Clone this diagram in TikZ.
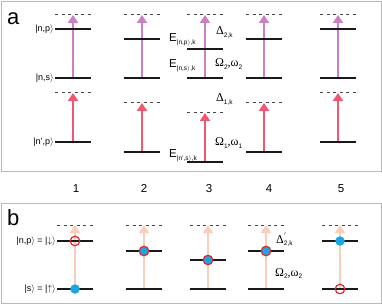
\documentclass[tikz,border=0pt]{standalone}
\usepackage{fontspec}
\setmainfont{Liberation Sans}
\newfontfamily\grk{Liberation Serif}
\usetikzlibrary{arrows.meta}
\definecolor{purp}{RGB}{204,128,196}
\definecolor{redar}{RGB}{241,88,112}
\definecolor{peach}{RGB}{249,206,188}
\definecolor{bluec}{RGB}{28,166,224}
\definecolor{ringc}{RGB}{228,40,50}
\definecolor{framec}{RGB}{185,185,185}
\definecolor{lvlc}{RGB}{25,25,25}
\definecolor{dashc}{RGB}{70,70,70}
\newcommand{\kt}[1]{|#1\ensuremath{\rangle}}
\newcommand{\sbx}[1]{\raisebox{-2.8pt}{\fontsize{6.5}{7}\selectfont #1}}
\newcommand{\sbs}[1]{\sbx{\fontspec{Liberation Sans}#1}}
\begin{document}
\begin{tikzpicture}[x=1pt,y=-1pt,
  lvl/.style={line width=1.7pt, draw=lvlc},
  vdash/.style={line width=1pt, draw=dashc, dash pattern=on 3pt off 3.5pt},
  uparr/.style={line width=2pt, -{Triangle[length=8pt,width=10pt]}},
  frm/.style={draw=framec, line width=0.8pt},
  lab/.style={inner sep=0pt, font=\fontsize{9}{10}\selectfont},
  big/.style={inner sep=0pt, font=\fontsize{11.5}{12}\selectfont},
  panel/.style={inner sep=0pt, font=\fontsize{22}{24}\selectfont},
  gr/.style={inner sep=0pt, font=\grk\fontsize{12}{13}\selectfont},
  dot/.style={circle, inner sep=0pt, minimum size=9.5pt, line width=1.2pt}
  ]
\useasboundingbox (0,0) rectangle (382,304);
% frames
\draw[frm] (1,1) rectangle (381,171);
\draw[frm] (1,203) rectangle (381,303);
\node[panel, anchor=base west] (pa) at (7,25) {a};
\node[panel, anchor=base west] (pb) at (7,225) {b};
% panel a
\foreach \i/\x/\u/\d/\b in {1/73/29/93/142, 2/142/39/103/152, 3/205/49/113/162, 4/264/39/103/152, 5/338/29/93/142}{
  \coordinate (aTop\i) at (\x,15);
  \coordinate (aUp\i) at (\x,\u);
  \coordinate (aMid\i) at (\x,78);
  \coordinate (aDsh\i) at (\x,\d);
  \coordinate (aBot\i) at (\x,\b);
  \draw[uparr, purp] (aMid\i) -- (aTop\i);
  \draw[uparr, redar] (aBot\i) -- (aDsh\i);
  \draw[vdash] ([xshift=-18pt]aTop\i) -- ([xshift=18pt]aTop\i);
  \draw[vdash] ([xshift=-18pt]aDsh\i) -- ([xshift=18pt]aDsh\i);
  \draw[lvl] ([xshift=-18pt]aUp\i) -- ([xshift=18pt]aUp\i);
  \draw[lvl] ([xshift=-18pt]aMid\i) -- ([xshift=18pt]aMid\i);
  \draw[lvl] ([xshift=-18pt]aBot\i) -- ([xshift=18pt]aBot\i);
}
\node[lab, anchor=east] (lnp) at ([xshift=-19pt]aUp1) {\kt{n,p}};
\node[lab, anchor=east] (lns) at ([xshift=-19pt]aMid1) {\kt{n,s}};
\node[lab, anchor=east] (lnpp) at ([xshift=-19pt]aBot1) {\kt{n',p}};
% column 3 labels
\node[big, anchor=base west] (E1) at (169,42) {E\sbx{\kt{n,p},k}};
\node[big, anchor=base west] (E2) at (169,68) {E\sbx{\kt{n,s},k}};
\node[big, anchor=base west] (E3) at (169,158) {E\sbx{\kt{n',s},k}};
\node[gr, anchor=base west] (D2) at (216,35) {Δ\sbs{2,k}};
\node[gr, anchor=base west] (O2) at (215,67) {Ω\sbs{2},ω\sbs{2}};
\node[gr, anchor=base west] (D1) at (216,102) {Δ\sbs{1,k}};
\node[gr, anchor=base west] (O1) at (215,146) {Ω\sbs{1},ω\sbs{1}};
% numbers
\node[big, anchor=base] (n1) at (76,193) {1};
\node[big, anchor=base] (n2) at (144,193) {2};
\node[big, anchor=base] (n3) at (209,193) {3};
\node[big, anchor=base] (n4) at (269,193) {4};
\node[big, anchor=base] (n5) at (341,193) {5};
% panel b
\foreach \i/\x/\u in {1/75/241, 2/144/251, 3/208/260, 4/266/251, 5/340/241}{
  \coordinate (bTop\i) at (\x,225);
  \coordinate (bUp\i) at (\x,\u);
  \coordinate (bLo\i) at (\x,289);
  \draw[uparr, peach] (bLo\i) -- (bTop\i);
  \draw[vdash] ([xshift=-18pt]bTop\i) -- ([xshift=18pt]bTop\i);
  \draw[lvl] ([xshift=-18pt]bUp\i) -- ([xshift=18pt]bUp\i);
  \draw[lvl] ([xshift=-18pt]bLo\i) -- ([xshift=18pt]bLo\i);
}
\node[dot, draw=ringc] (c1u) at (bUp1) {};
\node[dot, fill=bluec] (c1l) at (bLo1) {};
\node[dot, fill=bluec, draw=ringc] (c2u) at (bUp2) {};
\node[dot, fill=bluec, draw=ringc] (c3u) at (bUp3) {};
\node[dot, fill=bluec, draw=ringc] (c4u) at (bUp4) {};
\node[dot, fill=bluec] (c5u) at (bUp5) {};
\node[dot, draw=ringc] (c5l) at (bLo5) {};
\node[lab, anchor=east] (bl1) at ([xshift=-19pt]bUp1) {\kt{n,p} = \kt{\ensuremath{\downarrow}}};
\node[lab, anchor=east] (bl2) at ([xshift=-19pt]bLo1) {\kt{s} = \kt{\ensuremath{\uparrow}}};
\node[gr, anchor=base west] (Dp) at (276,243) {Δ\rlap{\raisebox{4pt}{\fontsize{7}{7}\selectfont$'$}}\sbs{2,k}};
\node[gr, anchor=base west] (Ob) at (275,276) {Ω\sbs{2},ω\sbs{2}};
\end{tikzpicture}
\end{document}
